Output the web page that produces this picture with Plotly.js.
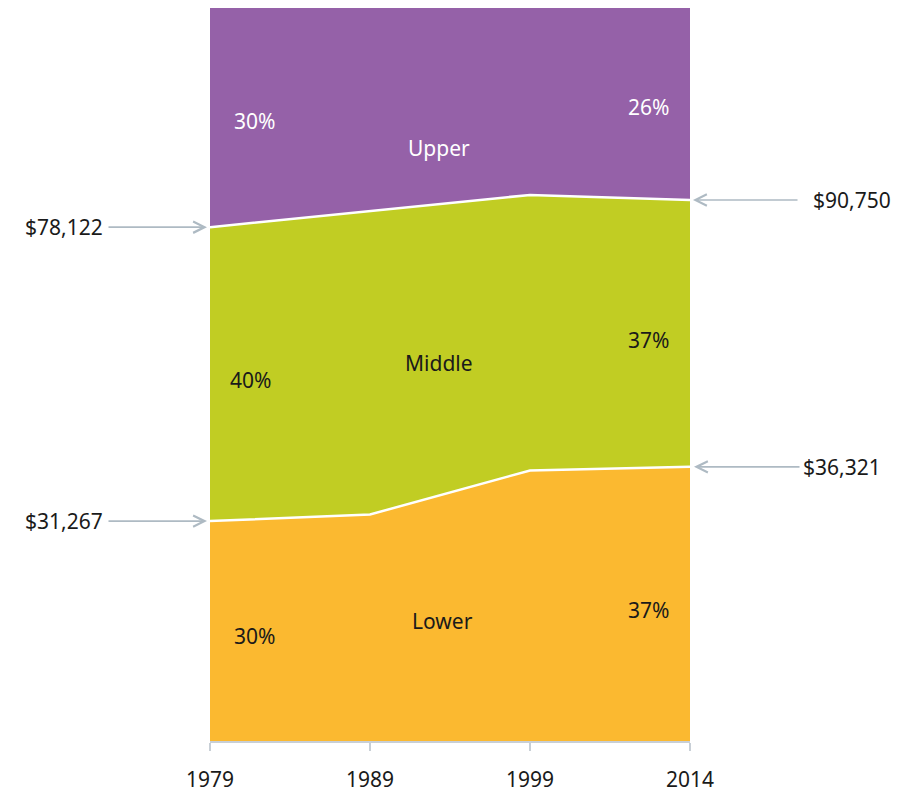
<!DOCTYPE html>
<html><head><meta charset="utf-8">
<script src="https://cdn.plot.ly/plotly-3.0.1.min.js"></script>
<style>html,body{margin:0;padding:0;background:#fff}#chart{width:907px;height:792px}</style>
</head><body><div id="chart"></div>
<script>
const years = ['1979', '1989', '1999', '2014'];
const lowerShare = [30.0, 30.9, 36.9, 37.4];
const middleShare = [40.1, 41.4, 37.6, 36.4];
const upperShare = [29.9, 27.7, 25.5, 26.2];
const tierNames = ['Lower', 'Middle', 'Upper'];
const tierColors = ['#FBB930', '#C1CD23', '#9561A8'];
const shareLabels = {
  lower: ['30%', '37%'],
  middle: ['40%', '37%'],
  upper: ['30%', '26%']
};
const thresholds1979 = ['$78,122', '$31,267'];
const thresholds2014 = ['$90,750', '$36,321'];

const font = 'Noto Sans, DejaVu Sans, sans-serif';
const dark = '#1a1a1a';
const arrowCol = '#AEBAC3';
const fs = 21;

const series = [lowerShare, middleShare, upperShare];
const traces = series.map((vals, i) => ({
  type: 'scatter', mode: 'lines', x: years, y: vals, stackgroup: 'one',
  name: tierNames[i], fillcolor: tierColors[i],
  line: {color: '#ffffff', width: i === 2 ? 0 : 2.5, shape: 'linear'},
  hoverinfo: 'skip'
}));

const cum1 = lowerShare.map((v) => v);
const cum2 = lowerShare.map((v, i) => v + middleShare[i]);

function txt(text, x, y, color) {
  return {text: text, x: x, y: y, xref: 'x', yref: 'y', showarrow: false,
    font: {family: font, size: fs, color: color}, xanchor: 'center', yanchor: 'middle'};
}
const annotations = [
  txt(shareLabels.upper[0], 0.275, 84.6, '#ffffff'),
  txt(shareLabels.upper[1], 2.74, 86.5, '#ffffff'),
  txt(tierNames[2], 1.43, 80.9, '#ffffff'),
  txt(shareLabels.middle[0], 0.25, 49.2, dark),
  txt(tierNames[1], 1.43, 51.6, dark),
  txt(shareLabels.middle[1], 2.74, 54.7, dark),
  txt(shareLabels.lower[0], 0.275, 14.3, dark),
  txt(tierNames[0], 1.455, 16.4, dark),
  txt(shareLabels.lower[1], 2.74, 17.9, dark)
];
function arrow(xIdx, y, ax, standoff) {
  return {text: '', x: xIdx, y: y, xref: 'x', yref: 'y', showarrow: true,
    ax: ax, ay: 0, axref: 'pixel', ayref: 'pixel', arrowhead: 5, arrowsize: 1.4,
    arrowwidth: 1.6, arrowcolor: arrowCol, standoff: standoff};
}
function dollar(text, xPaper, y, anchor) {
  return {text: text, x: xPaper, y: y, xref: 'paper', yref: 'y', showarrow: false,
    xanchor: anchor, yanchor: 'middle', font: {family: font, size: fs, color: dark}};
}
annotations.push(
  arrow(0, cum2[0], -103, 3), dollar(thresholds1979[0], -0.219, cum2[0], 'right'),
  arrow(0, cum1[0], -103, 3), dollar(thresholds1979[1], -0.219, cum1[0], 'right'),
  arrow(3, cum2[3], 109, 3), dollar(thresholds2014[0], 1.252, cum2[3], 'left'),
  arrow(3, cum1[3], 111, 4), dollar(thresholds2014[1], 1.232, cum1[3], 'left')
);

const layout = {
  width: 907, height: 792,
  margin: {l: 210, r: 217, t: 8, b: 51},
  paper_bgcolor: '#ffffff', plot_bgcolor: '#ffffff',
  showlegend: false,
  xaxis: {type: 'category', range: [0, 3], showgrid: false, zeroline: false,
    showline: true, linecolor: '#C8CFD6', linewidth: 2,
    ticks: 'outside', ticklen: 8, tickwidth: 2, tickcolor: '#C8CFD6',
    ticklabelstandoff: 11,
    tickfont: {family: font, size: fs, color: dark}},
  yaxis: {range: [0, 100], visible: false, fixedrange: true},
  annotations: annotations
};
Plotly.newPlot('chart', traces, layout, {staticPlot: true});
</script></body></html>
